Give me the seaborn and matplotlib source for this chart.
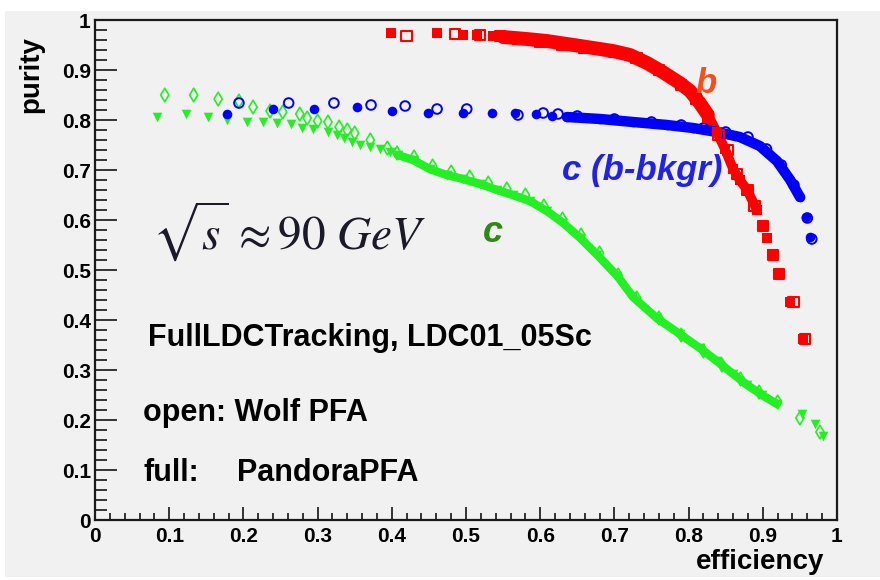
import numpy as np
import matplotlib
matplotlib.use('Agg')  # headless backend
import matplotlib.pyplot as plt
from matplotlib.patches import Rectangle
from matplotlib.ticker import MultipleLocator, FormatStrFormatter
import seaborn as sns

# b-tag purity vs efficiency
# b jets, PandoraPFA (full squares)
b_pandora_eff = [0.399, 0.461, 0.496, 0.515, 0.536, 0.55, 0.582, 0.609, 0.654, 0.698, 0.721,
                 0.744, 0.765, 0.788, 0.802, 0.815, 0.826, 0.838, 0.849, 0.860, 0.869, 0.879,
                 0.892, 0.900, 0.906, 0.912, 0.920, 0.937, 0.954]
b_pandora_pur = [0.974, 0.974, 0.970, 0.970, 0.968, 0.966, 0.962, 0.958, 0.948, 0.938, 0.930,
                 0.914, 0.896, 0.874, 0.858, 0.834, 0.810, 0.776, 0.742, 0.702, 0.680, 0.660,
                 0.620, 0.586, 0.564, 0.532, 0.492, 0.436, 0.362]
# b jets, Wolf PFA (open squares)
b_wolf_eff = [0.420, 0.485, 0.519, 0.546, 0.57, 0.60, 0.63, 0.66, 0.70, 0.73, 0.76, 0.79,
              0.81, 0.826, 0.840, 0.853, 0.865, 0.879, 0.889, 0.900, 0.914, 0.922, 0.941, 0.957]
b_wolf_pur = [0.968, 0.972, 0.970, 0.968, 0.962, 0.956, 0.950, 0.944, 0.936, 0.924, 0.900, 0.870,
              0.842, 0.806, 0.770, 0.740, 0.692, 0.660, 0.628, 0.588, 0.530, 0.492, 0.436, 0.362]

# c jets with b background, PandoraPFA (full circles)
cb_pandora_eff = [0.178, 0.240, 0.295, 0.353, 0.400, 0.449, 0.496, 0.535, 0.566, 0.594, 0.616,
                  0.636, 0.681, 0.725, 0.771, 0.806, 0.838, 0.869, 0.896, 0.919, 0.937, 0.950,
                  0.958, 0.964]
cb_pandora_pur = [0.812, 0.822, 0.822, 0.826, 0.818, 0.814, 0.814, 0.814, 0.814, 0.812, 0.808,
                  0.806, 0.802, 0.796, 0.790, 0.784, 0.776, 0.766, 0.748, 0.718, 0.680, 0.646,
                  0.606, 0.566]
# c jets with b background, Wolf PFA (open circles)
cb_wolf_eff = [0.194, 0.261, 0.322, 0.372, 0.418, 0.461, 0.501, 0.570, 0.604, 0.624, 0.650,
               0.700, 0.750, 0.790, 0.820, 0.850, 0.880, 0.905, 0.925, 0.942, 0.960, 0.966]
cb_wolf_pur = [0.834, 0.834, 0.834, 0.830, 0.828, 0.822, 0.822, 0.810, 0.814, 0.812, 0.808,
               0.802, 0.796, 0.790, 0.784, 0.776, 0.766, 0.742, 0.710, 0.670, 0.604, 0.562]

# c jets, PandoraPFA (full triangles)
c_pandora_eff = [0.084, 0.123, 0.152, 0.178, 0.205, 0.226, 0.245, 0.264, 0.279, 0.294, 0.314,
                 0.326, 0.336, 0.346, 0.357, 0.371, 0.384, 0.398, 0.408, 0.429, 0.451, 0.474,
                 0.496, 0.519, 0.542, 0.563, 0.586, 0.609, 0.631, 0.654, 0.677, 0.704, 0.725,
                 0.757, 0.788, 0.815, 0.838, 0.860, 0.879, 0.899, 0.919, 0.953, 0.970, 0.981]
c_pandora_pur = [0.806, 0.812, 0.806, 0.800, 0.796, 0.796, 0.794, 0.792, 0.784, 0.782, 0.776,
                 0.770, 0.764, 0.756, 0.750, 0.746, 0.742, 0.736, 0.730, 0.720, 0.702, 0.690,
                 0.682, 0.672, 0.660, 0.650, 0.638, 0.618, 0.594, 0.564, 0.530, 0.488, 0.446,
                 0.404, 0.372, 0.344, 0.318, 0.292, 0.270, 0.250, 0.232, 0.212, 0.192, 0.168]
# c jets, Wolf PFA (open diamonds)
c_wolf_eff = [0.094, 0.133, 0.166, 0.194, 0.213, 0.236, 0.253, 0.276, 0.286, 0.300, 0.314,
              0.329, 0.340, 0.350, 0.371, 0.394, 0.407, 0.430, 0.455, 0.480, 0.505, 0.530,
              0.555, 0.580, 0.605, 0.630, 0.655, 0.680, 0.705, 0.730, 0.760, 0.790, 0.820,
              0.845, 0.870, 0.895, 0.920, 0.950, 0.977]
c_wolf_pur = [0.850, 0.850, 0.842, 0.838, 0.826, 0.818, 0.816, 0.812, 0.804, 0.798, 0.796,
              0.786, 0.780, 0.774, 0.760, 0.744, 0.734, 0.726, 0.708, 0.696, 0.686, 0.674,
              0.662, 0.650, 0.628, 0.602, 0.570, 0.534, 0.490, 0.444, 0.404, 0.370, 0.338,
              0.310, 0.282, 0.256, 0.236, 0.204, 0.176]

x_ticks = [0, 0.1, 0.2, 0.3, 0.4, 0.5, 0.6, 0.7, 0.8, 0.9, 1]
y_ticks = [0, 0.1, 0.2, 0.3, 0.4, 0.5, 0.6, 0.7, 0.8, 0.9, 1]

RED, BLUE, GREEN = '#ff0000', '#0000ff', '#22f022'
BG = '#f1f1f1'

sns.set_style('ticks')
plt.rcParams['font.family'] = ['Liberation Sans', 'DejaVu Sans']
plt.rcParams['mathtext.fontset'] = 'stix'
plt.rcParams['text.color'] = 'black'
plt.rcParams['xtick.color'] = 'black'
plt.rcParams['ytick.color'] = 'black'

fig = plt.figure(figsize=(8.8, 5.8), dpi=100, facecolor='white')
fig.patches.append(Rectangle((5 / 880, 3 / 580), 875 / 880, 566 / 580,
                             transform=fig.transFigure, facecolor=BG, edgecolor='none', zorder=-10))
ax = fig.add_axes([95 / 880, 60 / 580, 742 / 880, 500 / 580])
ax.set_facecolor(BG)


def band(eff, pur, lo, hi, color, lw):
    # the dense part of a curve looks like a solid band in the original
    e = np.asarray(eff)
    p = np.asarray(pur)
    m = (e >= lo) & (e <= hi)
    sns.lineplot(x=e[m], y=p[m], sort=False, estimator=None, color=color,
                 linewidth=lw, solid_capstyle='round', ax=ax, zorder=2)


band(b_pandora_eff, b_pandora_pur, 0.54, 0.83, RED, 10)
band(b_pandora_eff, b_pandora_pur, 0.82, 0.893, RED, 7)
band(cb_pandora_eff, cb_pandora_pur, 0.62, 0.955, BLUE, 7.5)
band(c_pandora_eff, c_pandora_pur, 0.40, 0.92, GREEN, 6)

ms = 48
sns.scatterplot(x=c_pandora_eff, y=c_pandora_pur, marker='v', s=ms, color=GREEN,
                edgecolor=GREEN, linewidth=0, ax=ax, zorder=3)
sns.scatterplot(x=c_wolf_eff, y=c_wolf_pur, marker='d', s=ms, facecolor='none',
                edgecolor=GREEN, linewidth=1.2, ax=ax, zorder=3)
sns.scatterplot(x=cb_pandora_eff, y=cb_pandora_pur, marker='o', s=ms, color=BLUE,
                edgecolor=BLUE, linewidth=0, ax=ax, zorder=3)
sns.scatterplot(x=cb_wolf_eff, y=cb_wolf_pur, marker='o', s=ms, facecolor='none',
                edgecolor=BLUE, linewidth=1.4, ax=ax, zorder=3)
sns.scatterplot(x=b_pandora_eff, y=b_pandora_pur, marker='s', s=58, color=RED,
                edgecolor=RED, linewidth=0, ax=ax, zorder=4)
sns.scatterplot(x=b_wolf_eff, y=b_wolf_pur, marker='s', s=58, facecolor='none',
                edgecolor=RED, linewidth=1.5, ax=ax, zorder=4)

ax.set_xlim(0, 1)
ax.set_ylim(0, 1)
ax.set_xticks(x_ticks)
ax.set_yticks(y_ticks)
ax.xaxis.set_minor_locator(MultipleLocator(0.02))
ax.yaxis.set_minor_locator(MultipleLocator(0.02))
ax.xaxis.set_major_formatter(FormatStrFormatter('%g'))
ax.yaxis.set_major_formatter(FormatStrFormatter('%g'))
ax.tick_params(axis='both', which='both', direction='in', top=False, right=False,
               color='black', labelcolor='black', width=1.1)
ax.tick_params(axis='y', which='major', length=16, pad=3)
ax.tick_params(axis='y', which='minor', length=8.5)
ax.tick_params(axis='x', which='major', length=9.5, pad=5)
ax.tick_params(axis='x', which='minor', length=5)
for lab in ax.get_xticklabels() + ax.get_yticklabels():
    lab.set_fontsize(15)
    lab.set_fontweight('bold')
for side in ['left', 'bottom', 'top', 'right']:
    ax.spines[side].set_linewidth(1.6)
    ax.spines[side].set_color('#1a1a1a')
ax.set_xlabel('')
ax.set_ylabel('')

fig.text(31 / 880, 1 - 36 / 580, 'purity', rotation=90, ha='center', va='top',
         fontsize=20, fontweight='bold')
fig.text(824 / 880, 1 - 562 / 580, 'efficiency', ha='right', va='center',
         fontsize=20, fontweight='bold')

# annotations
ax.text(0.077, 0.576, r'$\sqrt{s}\,\approx 90\ GeV$', fontsize=34, color='#1a1a28',
        ha='left', va='center')
ax.text(0.523, 0.556, 'c', fontsize=26, fontweight='bold', fontstyle='italic',
        color='#2e8a12', ha='left', va='baseline')
ax.text(0.629, 0.680, 'c (b-bkgr)', fontsize=25, fontweight='bold', fontstyle='italic',
        color='#2222e6', ha='left', va='baseline')
ax.text(0.809, 0.854, 'b', fontsize=25, fontweight='bold', fontstyle='italic',
        color='#f4501e', ha='left', va='baseline')
ax.text(0.0714, 0.348, 'FullLDCTracking, LDC01_05Sc', fontsize=22, fontweight='bold',
        ha='left', va='baseline')
ax.text(0.065, 0.198, 'open: Wolf PFA', fontsize=22, fontweight='bold',
        ha='left', va='baseline')
ax.text(0.065, 0.078, 'full:', fontsize=22, fontweight='bold', ha='left', va='baseline')
ax.text(0.191, 0.078, 'PandoraPFA', fontsize=22, fontweight='bold', ha='left', va='baseline')

fig.savefig('out.png', dpi=100, facecolor=fig.get_facecolor())
plt.close(fig)
